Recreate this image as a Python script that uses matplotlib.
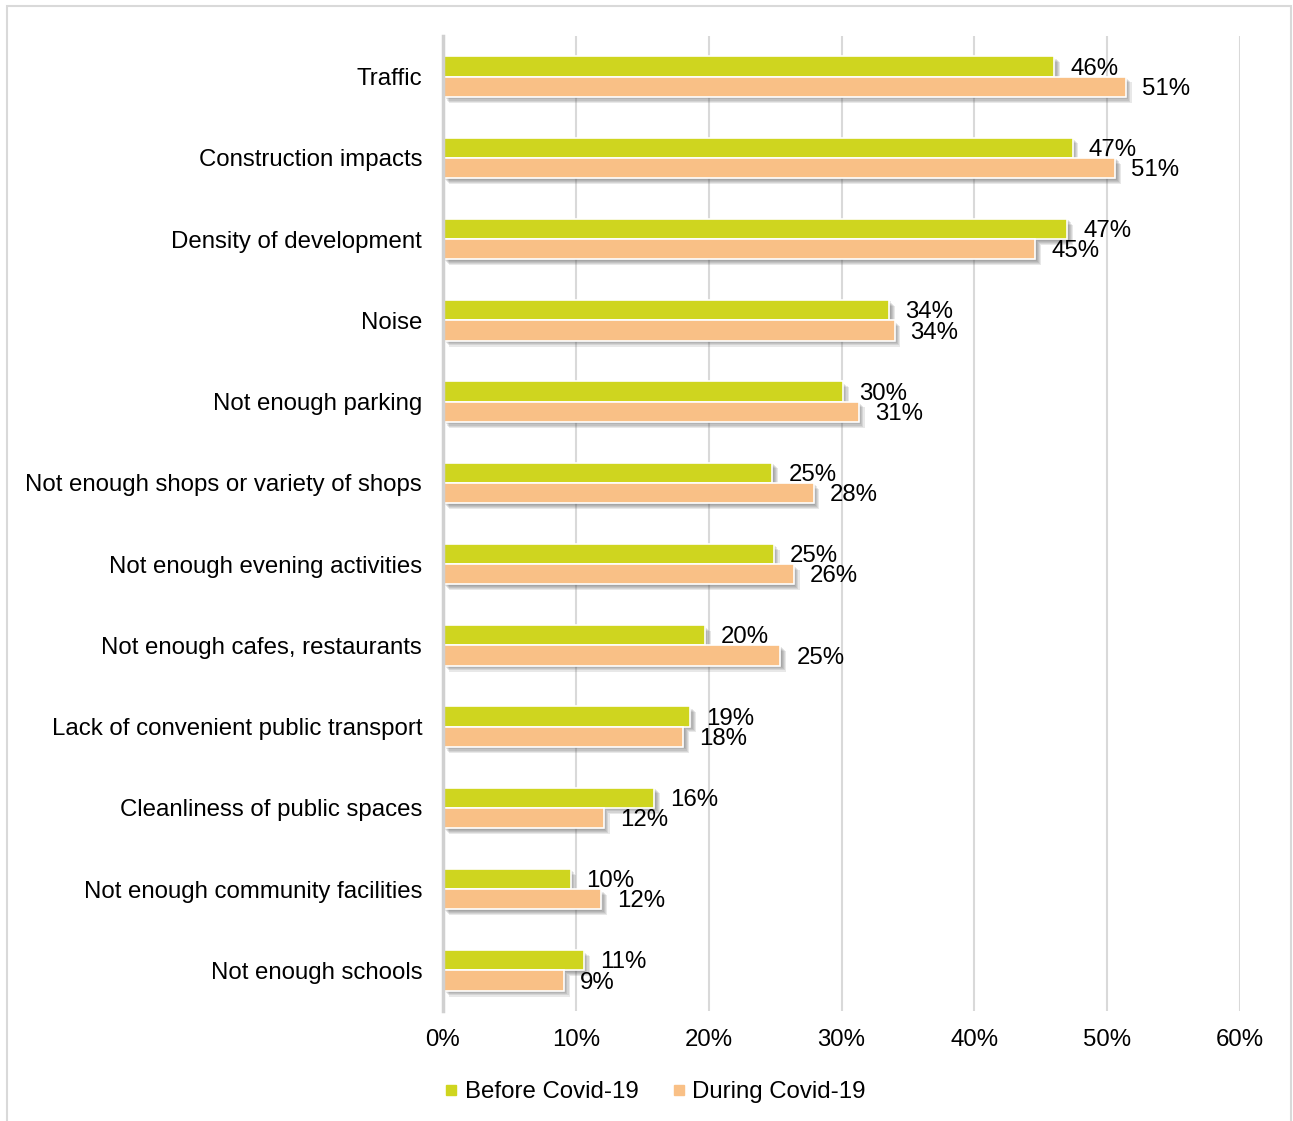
import matplotlib
matplotlib.use("Agg")
import matplotlib.pyplot as plt
import matplotlib.patheffects as pe
from matplotlib.lines import Line2D
from matplotlib.patches import Rectangle
import numpy as np

categories = [
    "Traffic",
    "Construction impacts",
    "Density of development",
    "Noise",
    "Not enough parking",
    "Not enough shops or variety of shops",
    "Not enough evening activities",
    "Not enough cafes, restaurants",
    "Lack of convenient public transport",
    "Cleanliness of public spaces",
    "Not enough community facilities",
    "Not enough schools",
]
before_covid = [46.0, 47.4, 47.0, 33.6, 30.1, 24.8, 24.9, 19.7, 18.6, 15.9, 9.6, 10.6]
during_covid = [51.4, 50.6, 44.6, 34.0, 31.3, 27.9, 26.4, 25.4, 18.1, 12.1, 11.9, 9.1]
series_names = ["Before Covid-19", "During Covid-19"]
x_ticks = [0, 10, 20, 30, 40, 50, 60]

GREEN = "#CFD51F"
ORANGE = "#F9C086"
GRID = "#D9D9D9"
FS = 17.3

plt.rcParams["font.family"] = ["Liberation Sans", "DejaVu Sans"]

W, H = 1293, 1121
fig = plt.figure(figsize=(W / 100, H / 100), dpi=100)

# outer frame
fig.patches.append(Rectangle((7 / W, -0.05), (1291 - 7) / W, (H - 6) / H + 0.05,
                             transform=fig.transFigure, fill=False,
                             edgecolor="#D9D9D9", linewidth=1.5))

ax = fig.add_axes([443 / W, 1 - 1011 / H, (1240 - 443) / W, (1011 - 36) / H])

y = np.arange(len(categories))
h = 0.25
# soft drop shadow built from a few stacked offsets
shadow = [pe.SimplePatchShadow(offset=(d, -d), shadow_rgbFace="#505050", alpha=0.13)
          for d in (1.0, 1.8, 2.6, 3.4, 4.2)] + [pe.Normal()]

bars_b = ax.barh(y - h / 2, before_covid, height=h, color=GREEN,
                 edgecolor="white", linewidth=1.2, zorder=3)
bars_d = ax.barh(y + h / 2, during_covid, height=h, color=ORANGE,
                 edgecolor="white", linewidth=1.2, zorder=3)
for b in list(bars_b) + list(bars_d):
    b.set_path_effects(shadow)

for bars, vals in ((bars_b, before_covid), (bars_d, during_covid)):
    for b, v in zip(bars, vals):
        ax.annotate(f"{v:.0f}%", xy=(v, b.get_y() + b.get_height() / 2),
                    xytext=(11.5, -1.5), textcoords="offset points",
                    va="center", ha="left", fontsize=FS, color="#000000",
                    zorder=5)

ax.set_xlim(0, 60)
ax.set_ylim(len(categories) - 0.5, -0.5)
ax.set_xticks(x_ticks)
ax.set_xticklabels([f"{t}%" for t in x_ticks], fontsize=FS)
ax.set_yticks(y)
ax.set_yticklabels(categories, fontsize=FS)
ax.tick_params(axis="both", length=0)
ax.tick_params(axis="x", pad=13)
ax.tick_params(axis="y", pad=15)

ax.grid(axis="x", color=GRID, linewidth=1.5, zorder=0)
ax.set_axisbelow(True)
for s in ("top", "right", "bottom"):
    ax.spines[s].set_visible(False)
ax.spines["left"].set_color("#D0D0D0")
ax.spines["left"].set_linewidth(2.5)
ax.spines["left"].set_zorder(4)

handles = [Line2D([], [], marker="s", linestyle="none", markersize=7,
                  markerfacecolor=c, markeredgecolor=c) for c in (GREEN, ORANGE)]
fig.legend(handles, series_names, loc="center", bbox_to_anchor=(655 / W, 1 - 1092 / H),
           ncol=2, frameon=False, fontsize=FS, handlelength=0.6,
           handletextpad=0.25, columnspacing=1.4)

fig.savefig("out.png", dpi=100, facecolor="white")
